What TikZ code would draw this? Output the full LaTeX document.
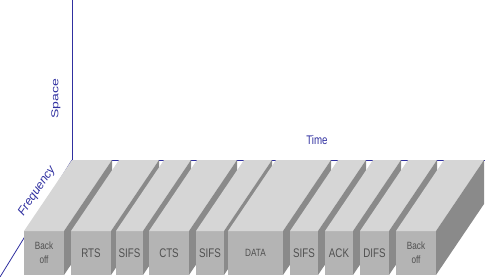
\documentclass[tikz,border=0pt]{standalone}
\usepackage{fontspec}
\setmainfont{Liberation Sans}
\newfontfamily\narrowf[FakeStretch=0.78]{Liberation Sans}
\newfontfamily\widef[FakeStretch=1.4]{Liberation Sans}
\definecolor{axisblue}{RGB}{48,48,160}
\definecolor{topgray}{RGB}{214,214,214}
\definecolor{frontgray}{RGB}{180,180,180}
\definecolor{sidegray}{RGB}{138,138,138}
\definecolor{textgray}{RGB}{80,80,80}
\tikzset{
  axisline/.style={draw=axisblue, line width=0.8pt},
  frontface/.style={fill=frontgray, inner sep=0pt, outer sep=0pt, minimum height=44,
    anchor=south west, text=textgray, align=center},
  topface/.style={fill=topgray},
  sideface/.style={fill=sidegray},
  axislabel/.style={text=axisblue, inner sep=0pt}
}
\newcommand\slotbox[5]{%
  \node[frontface, minimum width={#3-#2}, font={\narrowf\fontsize{#5}{14}\selectfont}] (#1) at (#2,275) {#4};
  \fill[topface] (#1.north west) -- ++(48,-71) -- ([shift={(48,-71)}]#1.north east) -- (#1.north east) -- cycle;
  \fill[sideface] (#1.north east) -- ++(48,-71) -- ([shift={(48,-71)}]#1.south east) -- (#1.south east) -- cycle;
}
\begin{document}
\begin{tikzpicture}[x=1pt,y=-1pt]
\useasboundingbox (0,0) rectangle (485,277);
\coordinate (o) at (72,160);
\coordinate (sp) at (72,0);
\coordinate (tm) at (485,160);
\coordinate (fq) at (0,277);
\draw[axisline] (o) -- (sp);
\draw[axisline] (o) -- (tm);
\draw[axisline] (o) -- (fq);
\slotbox{b1}{24}{64}{Back\\off}{10.5}
\slotbox{b2}{71}{111}{RTS}{12.5}
\slotbox{b3}{116}{143}{SIFS}{12.5}
\slotbox{b4}{149}{189}{CTS}{12.5}
\slotbox{b5}{196}{224}{SIFS}{12.5}
\slotbox{b6}{228}{283}{DATA}{10.5}
\slotbox{b7}{290}{318}{SIFS}{12.5}
\slotbox{b8}{325}{353}{ACK}{12.5}
\slotbox{b9}{360}{389}{DIFS}{12.5}
\slotbox{b10}{396}{436}{Back\\off}{10.5}
\node[axislabel, font={\narrowf\fontsize{12.5}{14}\selectfont}] (time) at (317,140.5) {Time};
\node[axislabel, rotate=90, font={\widef\fontsize{10}{12}\selectfont}] (space) at (56,98.5) {Space};
\node[axislabel, rotate=56, font={\itshape\fontsize{12}{14}\selectfont}] (freq) at (37,191) {Frequency};
\end{tikzpicture}
\end{document}
